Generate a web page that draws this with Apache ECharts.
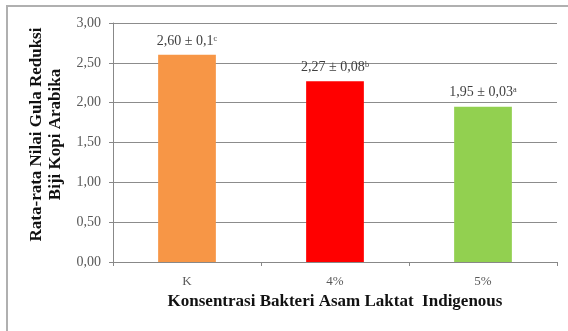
<!DOCTYPE html>
<html>
<head>
<meta charset="utf-8">
<script src="https://cdn.jsdelivr.net/npm/echarts@6/dist/echarts.min.js"></script>
<style>
  html, body { margin: 0; padding: 0; background: #fff; }
  #main { width: 568px; height: 331px; }
</style>
</head>
<body>
<div id="main"></div>
<script>
var categories = ['K', '4%', '5%'];
var values = [2.60, 2.27, 1.95];
var labelText = ['2,60 ± 0,1ᶜ', '2,27 ± 0,08ᵇ', '1,95 ± 0,03ᵃ'];
var barColors = ['#f79646', '#ff0000', '#92d050'];

var chart = echarts.init(document.getElementById('main'));
var serif = '"Liberation Serif", "Times New Roman", serif';

var option = {
  backgroundColor: '#fff',
  animation: false,
  graphic: [
    {
      type: 'polyline',
      shape: { points: [[7, 331], [7, 6], [568, 6]] },
      style: { stroke: '#b0b0b0', lineWidth: 2, fill: null }
    }
  ],
  grid: { left: 113, right: 11, top: 23, bottom: 69 },
  xAxis: {
    type: 'category',
    data: categories,
    name: 'Konsentrasi Bakteri Asam Laktat  Indigenous',
    nameLocation: 'middle',
    nameGap: 29,
    nameTextStyle: { fontFamily: serif, fontWeight: 'bold', fontSize: 17, color: '#111' },
    axisLine: { lineStyle: { color: '#888', width: 1 } },
    axisTick: { show: true, alignWithLabel: false, length: 4, lineStyle: { color: '#888' } },
    axisLabel: { fontFamily: serif, fontSize: 13, color: '#595959', margin: 13 }
  },
  yAxis: {
    type: 'value',
    min: 0,
    max: 3,
    interval: 0.5,
    name: 'Rata-rata Nilai Gula Reduksi\nBiji Kopi Arabika',
    nameLocation: 'middle',
    nameGap: 47,
    nameTextStyle: {
      fontFamily: serif, fontWeight: 'bold', fontSize: 17, color: '#111',
      lineHeight: 19, padding: [0, 0, 0, 16]
    },
    axisLine: { show: true, lineStyle: { color: '#888' } },
    axisTick: { show: true, length: 4, lineStyle: { color: '#888' } },
    axisLabel: {
      fontFamily: serif, fontSize: 14, color: '#595959', margin: 12,
      formatter: function (v) { return v.toFixed(2).replace('.', ','); }
    },
    splitLine: { lineStyle: { color: '#8c8c8c', width: 1 } }
  },
  series: [
    {
      type: 'bar',
      barWidth: '39%',
      data: values.map(function (v, i) {
        return { value: v, itemStyle: { color: barColors[i] } };
      }),
      label: {
        show: true,
        position: 'top',
        distance: 7,
        fontFamily: serif,
        fontSize: 14,
        color: '#404040',
        formatter: function (p) { return labelText[p.dataIndex]; }
      }
    }
  ]
};
chart.setOption(option);
</script>
</body>
</html>
